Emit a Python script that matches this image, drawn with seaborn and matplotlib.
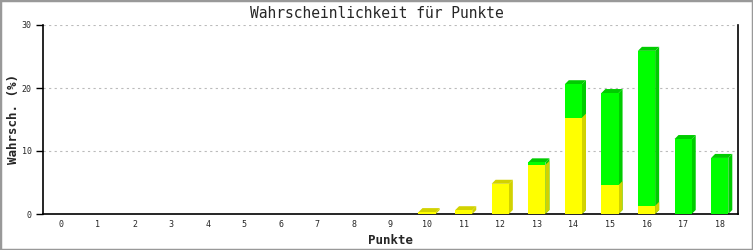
import matplotlib
matplotlib.use("Agg")
import matplotlib.pyplot as plt
from matplotlib.patches import Polygon, Rectangle
import seaborn as sns
import pandas as pd

points = [str(i) for i in range(19)]
yellow = [0, 0, 0, 0, 0, 0, 0, 0, 0, 0, 0.3, 0.6, 4.8, 7.8, 15.3, 4.6, 1.3, 0, 0]
green = [0, 0, 0, 0, 0, 0, 0, 0, 0, 0, 0, 0, 0, 0.4, 5.3, 14.6, 24.6, 11.9, 8.9]
yticks = [0, 10, 20, 30]

total = [a + b for a, b in zip(yellow, green)]
df = pd.DataFrame({"Punkte": points, "yellow": yellow, "total": total})

sns.set_theme(style="white")
plt.rcParams["font.family"] = ["DejaVu Sans Mono", "DejaVu Sans"]

fig = plt.figure(figsize=(7.53, 2.5), dpi=100)
ax = fig.add_axes([43 / 753, 1 - 214 / 250, (738 - 43) / 753, (214 - 25) / 250])

YEL, YEL_D = "#FFFF00", "#D2D200"
GRN, GRN_D = "#00FF00", "#00CC00"
W = 0.47

sns.barplot(data=df, x="Punkte", y="total", order=points, color=GRN, width=W,
            saturation=1, ax=ax, zorder=3, linewidth=0)
n_green = len(ax.patches)
sns.barplot(data=df, x="Punkte", y="yellow", order=points, color=YEL, width=W,
            saturation=1, ax=ax, zorder=5, linewidth=0)

# depth offsets (~4 px right, ~4 px up)
dx = 4 / 36.6
dy = 4 / 6.3

patches = list(ax.patches)
for i, p in enumerate(patches):
    x0, y0, w, h = p.get_x(), p.get_y(), p.get_width(), p.get_height()
    is_green = i < n_green
    k = i if is_green else i - n_green
    if is_green and green[k] <= 0:
        p.set_visible(False)
        continue
    if h <= 0:
        continue
    dark = GRN_D if is_green else YEL_D
    z = 2.5 if is_green else 4.5
    side = Polygon([(x0 + w, y0), (x0 + w + dx, y0 + dy), (x0 + w + dx, y0 + h + dy),
                    (x0 + w, y0 + h)], closed=True, facecolor=dark, edgecolor="none", zorder=z)
    ax.add_patch(side)
    if is_green or green[k] <= 0:
        top = Polygon([(x0, y0 + h), (x0 + dx, y0 + h + dy), (x0 + w + dx, y0 + h + dy),
                       (x0 + w, y0 + h)], closed=True, facecolor=dark, edgecolor="none", zorder=z)
        ax.add_patch(top)

ax.set_xlim(-0.5, 18.5)
ax.set_ylim(0, 30)
ax.set_yticks(yticks)
ax.set_yticklabels([str(t) for t in yticks])
ax.yaxis.grid(True, color="#BBBBBB", linestyle=(0, (2, 3)), linewidth=0.8, zorder=0)
ax.xaxis.grid(False)
ax.set_axisbelow(True)

for s in ["left", "bottom", "right"]:
    ax.spines[s].set_visible(True)
    ax.spines[s].set_color("black")
    ax.spines[s].set_linewidth(1.2)
ax.spines["top"].set_visible(False)

ax.tick_params(axis="y", which="both", left=True, length=5, width=1, color="black",
               labelsize=6, pad=3)
ax.tick_params(axis="x", which="both", bottom=False, length=0, labelsize=6, pad=4)

ax.set_xlabel("Punkte", fontsize=9, fontweight="bold", va="center")
ax.set_ylabel("Wahrsch. (%)", fontsize=9, fontweight="bold", va="center")
ax.xaxis.set_label_coords(0.5, (214 - 240) / 189)
ax.yaxis.set_label_coords((13 - 43) / 695, 0.5)
fig.suptitle("Wahrscheinlichkeit für Punkte", fontsize=10.5, y=0.975)

fig.patches.append(Rectangle((0, 0), 1, 1, transform=fig.transFigure, fill=False,
                             edgecolor="#999999", linewidth=2.5))

fig.savefig("out.png", dpi=100)
